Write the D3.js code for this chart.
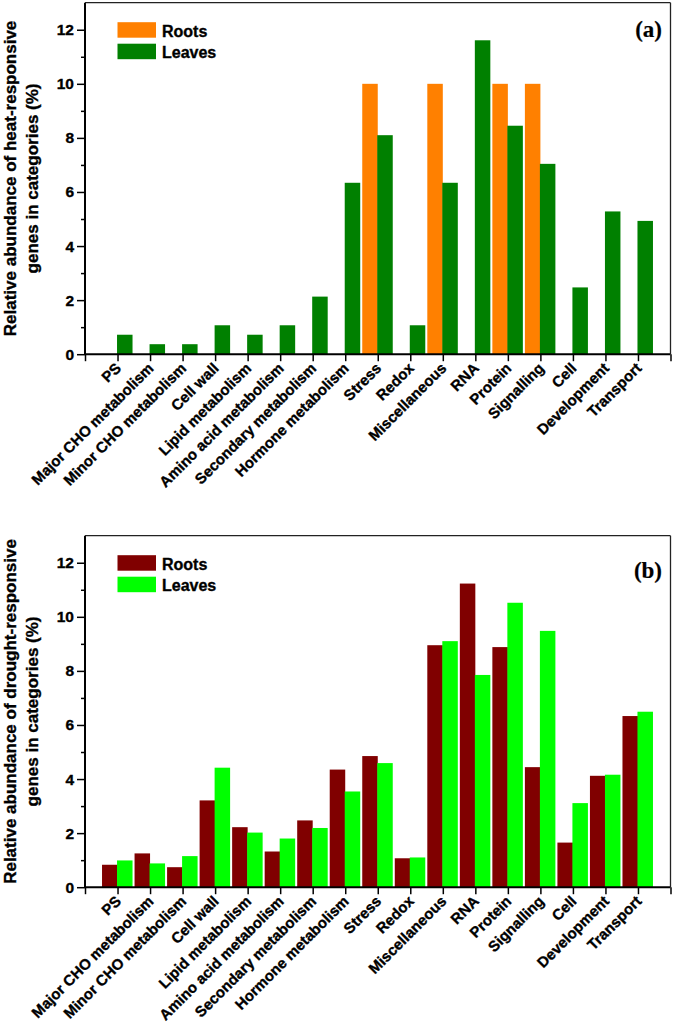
<!DOCTYPE html>
<meta charset="utf-8">

<script src="https://d3js.org/d3.v7.min.js"></script>

<style type="text/css">

body {
  margin: 0;
  background: white;
}

text {
  font-family: "Liberation Sans", Arial, sans-serif;
  font-weight: bold;
  stroke: black;
  stroke-width: 0.35px;
}

.axis text {
  font-size: 15px;
  fill: black;
}

.yAxis text {
  font-size: 15.5px;
}

.axis line {
  stroke: black;
  stroke-width: 1.5px;
}

.axis path {
  display: none;
}

.yTitle {
  font-size: 17px;
}

.legendText {
  font-size: 16px;
}

.panelTag {
  font-family: "Liberation Serif", "Times New Roman", serif;
  font-size: 23px;
  stroke-width: 0.2px;
}

</style>

<body>
</body>

<script>

  // ---------------------------//
  //         DATA               //
  // ---------------------------//

  const categories = ["PS", "Major CHO metabolism", "Minor CHO metabolism", "Cell wall",
    "Lipid metabolism", "Amino acid metabolism", "Secondary metabolism", "Hormone metabolism",
    "Stress", "Redox", "Miscellaneous", "RNA", "Protein", "Signalling", "Cell",
    "Development", "Transport"]

  // (a) heat-responsive genes (%)
  const heatRoots  = [0, 0, 0, 0, 0, 0, 0, 0, 10, 0, 10, 0, 10, 10, 0, 0, 0]
  const heatLeaves = [0.72, 0.37, 0.37, 1.07, 0.72, 1.07, 2.13, 6.34, 8.10, 1.07,
                      6.34, 11.61, 8.45, 7.04, 2.47, 5.28, 4.93]

  // (b) drought-responsive genes (%)
  const droughtRoots  = [0.83, 1.25, 0.74, 3.21, 2.22, 1.32, 2.47, 4.35, 4.85, 1.07,
                         8.95, 11.23, 8.88, 4.44, 1.65, 4.12, 6.33]
  const droughtLeaves = [0.99, 0.88, 1.15, 4.42, 2.02, 1.80, 2.19, 3.54, 4.59, 1.10,
                         9.10, 7.85, 10.52, 9.48, 3.11, 4.16, 6.49]

  const yMajorTicks = [0, 2, 4, 6, 8, 10, 12]
  const yMinorTicks = [1, 3, 5, 7, 9, 11]
  const yMax = 13

  // ---------------------------//
  //         LAYOUT             //
  // ---------------------------//

  const outerWidth = 675
  const outerHeight = 1024
  const plotLeft = 85
  const plotRight = 670.5
  const plotHeight = 351.5
  const barWidth = 15.5

  const SVG = d3.select("body").append("svg")
    .attr("width", outerWidth)
    .attr("height", outerHeight)

  SVG.append("rect")
    .attr("width", outerWidth)
    .attr("height", outerHeight)
    .style("fill", "white")

  // x position: category i sits on tick i+1, axis runs 0..18
  let xScale = d3.scaleLinear()
                  .domain([0, categories.length + 1])
                  .range([plotLeft, plotRight])

  function drawPanel(top, roots, leaves, rootColor, leafColor, titleLines, tag, tagY) {

    const bottom = top + plotHeight

    let yScale = d3.scaleLinear()
                    .domain([0, yMax])
                    .range([bottom, top])

    const g = SVG.append("g")

    // BARS
    const rows = categories.map((c, i) => ({name: c, pos: i + 1, root: roots[i], leaf: leaves[i]}))

    g.selectAll(".rootBar")
      .data(rows.filter(d => d.root > 0))
      .enter().append("rect")
        .classed("rootBar", true)
        .attr("x", d => xScale(d.pos) - barWidth)
        .attr("y", d => yScale(d.root))
        .attr("width", barWidth)
        .attr("height", d => yScale(0) - yScale(d.root))
        .style("fill", rootColor)

    g.selectAll(".leafBar")
      .data(rows.filter(d => d.leaf > 0))
      .enter().append("rect")
        .classed("leafBar", true)
        .attr("x", d => xScale(d.pos) - 0.5)
        .attr("y", d => yScale(d.leaf))
        .attr("width", barWidth)
        .attr("height", d => yScale(0) - yScale(d.leaf))
        .style("fill", leafColor)

    // Y AXIS (minor then major)
    g.append("g")
      .classed("axis", true)
      .attr("transform", "translate(" + plotLeft + ",0)")
      .call(d3.axisLeft(yScale).tickValues(yMinorTicks).tickSize(4).tickFormat(""))

    g.append("g")
      .classed("axis yAxis", true)
      .attr("transform", "translate(" + plotLeft + ",0)")
      .call(d3.axisLeft(yScale).tickValues(yMajorTicks).tickSize(8).tickPadding(3))

    // X AXIS
    const xAxis = g.append("g")
      .classed("axis", true)
      .attr("transform", "translate(0," + bottom + ")")
      .call(d3.axisBottom(xScale)
              .tickValues(d3.range(0, categories.length + 2))
              .tickSize(7)
              .tickFormat(v => categories[v - 1] || ""))

    xAxis.selectAll("text")
      .attr("y", 0)
      .attr("dy", null)
      .attr("transform", "translate(4,15) rotate(-45)")
      .style("text-anchor", "end")

    // FRAME
    g.append("line")
      .attr("x1", plotLeft).attr("x2", plotLeft)
      .attr("y1", top).attr("y2", bottom)
      .style("stroke", "black").style("stroke-width", 2)

    g.append("line")
      .attr("x1", plotLeft).attr("x2", plotRight)
      .attr("y1", bottom).attr("y2", bottom)
      .style("stroke", "black").style("stroke-width", 2)

    g.append("line")
      .attr("x1", plotLeft).attr("x2", plotRight)
      .attr("y1", top).attr("y2", top)
      .style("stroke", "#222").style("stroke-width", 1.3)

    g.append("line")
      .attr("x1", plotRight).attr("x2", plotRight)
      .attr("y1", top).attr("y2", bottom)
      .style("stroke", "#222").style("stroke-width", 1.3)

    // Y TITLE
    const midY = (top + bottom) / 2
    titleLines.forEach((t, i) => {
      g.append("text")
        .classed("yTitle", true)
        .attr("transform", "translate(" + (16 + i * 22) + "," + midY + ") rotate(-90)")
        .attr("text-anchor", "middle")
        .text(t)
    })

    // LEGEND
    const legend = [["Roots", rootColor], ["Leaves", leafColor]]
    legend.forEach((d, i) => {
      g.append("rect")
        .attr("x", 117.5)
        .attr("y", top + 19.5 + i * 21.5)
        .attr("width", 38.5)
        .attr("height", 15.5)
        .style("fill", d[1])

      g.append("text")
        .classed("legendText", true)
        .attr("x", 162)
        .attr("y", top + 34 + i * 21.5)
        .text(d[0])
    })

    // PANEL TAG
    g.append("text")
      .classed("panelTag", true)
      .attr("x", 662)
      .attr("y", tagY)
      .attr("text-anchor", "end")
      .text(tag)
  }

  // ---------------------------//
  //         PANELS             //
  // ---------------------------//

  drawPanel(2.7, heatRoots, heatLeaves, "#FF8000", "#008000",
            ["Relative abundance of heat-responsive", "genes in categories (%)"], "(a)", 36.5)

  drawPanel(535.7, droughtRoots, droughtLeaves, "#800000", "#00FF00",
            ["Relative abundance of drought-responsive", "genes in categories (%)"], "(b)", 577.5)

</script>
